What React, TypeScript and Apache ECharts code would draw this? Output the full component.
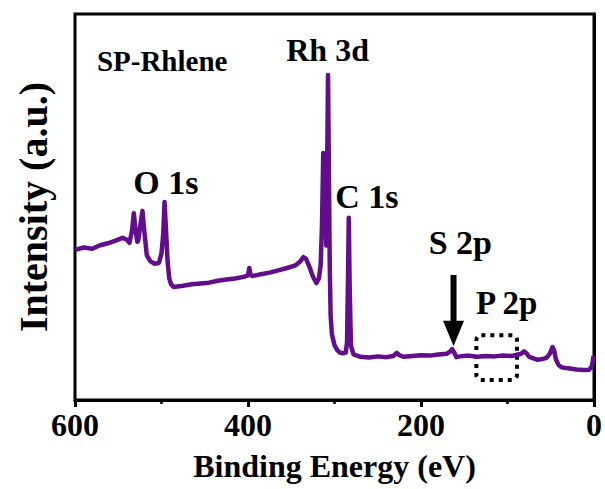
import React, { useEffect, useRef } from "react";
import * as echarts from "echarts";

const energies = [600, 590, 580, 571, 562, 553, 545, 540, 537, 534, 532, 530, 528, 527, 524, 522, 520, 517, 513, 508, 503, 500, 498, 496.5, 495, 493, 491, 489, 486, 475, 465, 455, 445, 435, 425, 415, 405, 400, 398.5, 397, 395, 385, 375, 365, 355, 345, 340, 336, 333, 329, 325, 321, 318, 316, 314.5, 313, 312, 310.5, 309.5, 308.5, 307.5, 306.5, 305.5, 304.5, 303, 300, 297, 294, 290, 287, 285.5, 284.5, 283.5, 282.5, 281, 278, 270, 260, 250, 240, 232, 228, 225, 220, 210, 200, 190, 180, 170, 166, 164, 162, 159, 155, 145, 135, 125, 115, 105, 95, 88, 84, 81, 78, 75, 70, 65, 60, 55, 51, 48, 46, 44, 41, 38, 30, 20, 12, 6, 3, 1.5, 0.5];
const intensities = [38.9, 39.5, 39.2, 40.1, 40.6, 41.3, 42.0, 41.5, 40.7, 44, 48.4, 44, 41.0, 41.2, 46, 49.0, 44, 37.5, 36, 35.3, 35.5, 38, 43, 51.3, 45, 36, 31.5, 30, 29.3, 29.6, 30.0, 30.2, 30.4, 30.9, 31.2, 31.5, 31.9, 32.3, 34.2, 32.4, 32.1, 32.6, 33.0, 33.6, 34.2, 34.9, 35.8, 37.0, 36.6, 34.5, 32, 30.3, 31.5, 35, 45, 64, 63, 50, 40, 60, 84.2, 60, 35, 22, 17, 14.2, 13, 12.3, 12.1, 12.3, 15, 30, 47.2, 30, 14, 11.8, 11.2, 11.0, 11.3, 11.1, 11.4, 12.2, 11.6, 11.2, 11.4, 11.6, 11.5, 11.8, 12.0, 12.6, 13.2, 12.4, 11.1, 11.3, 11.5, 11.2, 11.4, 11.3, 11.5, 11.4, 11.8, 12.0, 12.6, 12.1, 11.2, 10.8, 10.4, 10.6, 10.9, 12, 13.7, 12.8, 10.5, 9.1, 8.5, 8.2, 7.9, 7.8, 7.8, 8.5, 10, 11.4];

const xTicks = [600, 400, 200, 0];

// peak labels: text, energy, intensity (centre), size, alignment
const labelTexts = ["SP-Rhlene", "Rh 3d", "O 1s", "C 1s", "S 2p", "P 2p"];
const labelEnergies = [574.7, 308, 495, 262.5, 154.5, 101];
const labelIntensities = [87.8, 90.7, 56.4, 52.8, 40.7, 25.2];
const labelSizes = [29, 32, 34, 34, 34, 33];
const labelAligns = ["left", "center", "center", "center", "center", "center"];

// arrow for S 2p: energy, top, head start, tip
const arrowEnergy = 162.4;
const arrowTop = 32.4;
const arrowHead = 20.5;
const arrowTip = 14.0;

// dotted box for P 2p: energy range, intensity range
const boxEnergies = [136, 89];
const boxIntensities = [16.8, 5.2];

const FONT = "'Times New Roman', 'Liberation Serif', serif";
const PURPLE = "#620d8b";

export default function App() {
  const ref = useRef<HTMLDivElement>(null);
  useEffect(() => {
    if (!ref.current) return;
    const chart = echarts.init(ref.current, undefined, { renderer: "svg" });
    const data = energies.map((e, i) => [e, intensities[i]]);
    chart.setOption({
      animation: false,
      backgroundColor: "#ffffff",
      grid: {
        left: 75,
        right: 9,
        top: 14,
        bottom: 89,
        show: true,
        borderColor: "#000",
        borderWidth: 3,
        backgroundColor: "transparent",
      },
      xAxis: {
        type: "value",
        min: 0,
        max: 600,
        interval: 200,
        inverse: true,
        axisLine: { show: true, lineStyle: { color: "#000", width: 3 } },
        axisTick: { show: true, length: 7, lineStyle: { color: "#000", width: 3 } },
        minorTick: { show: true, splitNumber: 2, length: 4, lineStyle: { color: "#000", width: 2.5 } },
        splitLine: { show: false },
        axisLabel: {
          color: "#000",
          fontFamily: FONT,
          fontWeight: "bold",
          fontSize: 32,
          margin: 9,
          formatter: (v: number) => (xTicks.includes(v) ? String(v) : ""),
        },
        name: "Binding Energy (eV)",
        nameLocation: "middle",
        nameGap: 50,
        nameTextStyle: { color: "#000", fontFamily: FONT, fontWeight: "bold", fontSize: 32 },
      },
      yAxis: {
        type: "value",
        min: 0,
        max: 100,
        axisLine: { show: true, lineStyle: { color: "#000", width: 3 } },
        axisTick: { show: false },
        axisLabel: { show: false },
        splitLine: { show: false },
      },
      series: [
        {
          type: "line",
          data,
          showSymbol: false,
          lineStyle: { color: PURPLE, width: 4.5, join: "round" },
          itemStyle: { color: PURPLE },
        },
      ],
    });

    const p = (e: number, v: number) => chart.convertToPixel({ gridIndex: 0 }, [e, v]) as number[];
    const graphics: any[] = [];
    labelTexts.forEach((t, i) => {
      const [x, y] = p(labelEnergies[i], labelIntensities[i]);
      graphics.push({
        type: "text",
        x,
        y,
        style: {
          text: t,
          fill: "#000",
          font: `bold ${labelSizes[i]}px ${FONT}`,
          align: labelAligns[i],
          verticalAlign: "middle",
        },
      });
    });
    const [ax, ayTop] = p(arrowEnergy, arrowTop);
    const [, ayHead] = p(arrowEnergy, arrowHead);
    const [, ayTip] = p(arrowEnergy, arrowTip);
    graphics.push({
      type: "line",
      shape: { x1: ax, y1: ayTop, x2: ax, y2: ayHead + 2 },
      style: { stroke: "#000", lineWidth: 6 },
    });
    graphics.push({
      type: "polygon",
      shape: { points: [[ax - 10.5, ayHead], [ax + 10.5, ayHead], [ax, ayTip]] },
      style: { fill: "#000" },
    });
    const [bx1, by1] = p(boxEnergies[0], boxIntensities[0]);
    const [bx2, by2] = p(boxEnergies[1], boxIntensities[1]);
    graphics.push({
      type: "rect",
      shape: { x: bx1, y: by1, width: bx2 - bx1, height: by2 - by1, r: 5 },
      style: { fill: "none", stroke: "#000", lineWidth: 4, lineDash: [4, 5] },
    });
    const [, yMid] = p(300, 50);
    graphics.push({
      type: "text",
      x: 33,
      y: yMid,
      rotation: Math.PI / 2,
      style: {
        text: "Intensity (a.u.)",
        fill: "#000",
        font: `bold 40px ${FONT}`,
        align: "center",
        verticalAlign: "middle",
      },
    });
    chart.setOption({ graphic: graphics });
    return () => chart.dispose();
  }, []);
  return <div ref={ref} style={{ width: 605, height: 489, position: "absolute", left: 0, top: 0 }} />;
}
